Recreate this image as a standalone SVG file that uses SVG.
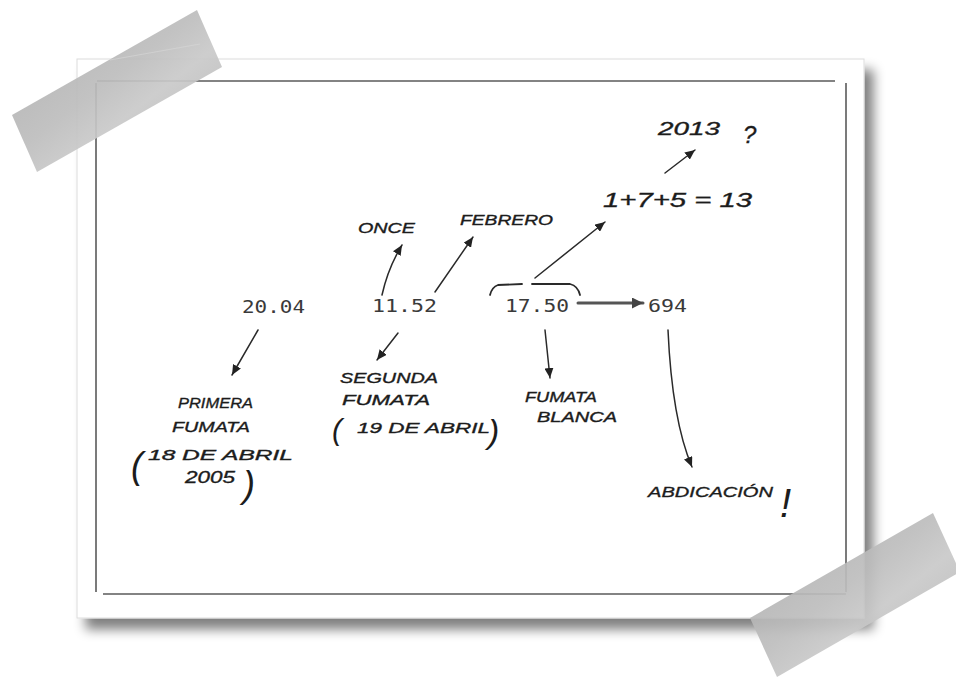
<svg xmlns="http://www.w3.org/2000/svg" width="956" height="678" viewBox="0 0 956 678">
  <style>
    .num { font-family: "DejaVu Sans Mono", "Liberation Mono", monospace; font-size: 17px; fill: #3a3a3a; }
    .hw { font-family: "Liberation Sans", "DejaVu Sans", sans-serif; font-style: italic; fill: #1c1c1c; stroke: #1c1c1c; stroke-width: 0.35; font-size: 14px; }
    .par { font-family: "Liberation Sans", "DejaVu Sans", sans-serif; font-style: italic; fill: #1c1c1c; }
    .conn { fill: none; stroke: #2a2a2a; stroke-width: 1.5; stroke-linecap: round; }
    .frame { stroke: #5a5a5a; stroke-width: 1.6; fill: none; }
    .tape { fill: url(#tapeGrad); opacity: 0.92; }
  </style>
  <defs>
    <marker id="ah" markerUnits="userSpaceOnUse" markerWidth="11" markerHeight="9" refX="10" refY="4.5" orient="auto">
      <path d="M0,0 L10,4.5 L0,9 z" fill="#222"/>
    </marker>
    <marker id="ahBig" markerUnits="userSpaceOnUse" markerWidth="12" markerHeight="11" refX="11" refY="5.5" orient="auto">
      <path d="M0,0 L11,5.5 L0,11 z" fill="#444"/>
    </marker>
    <filter id="sh" x="-5%" y="-5%" width="115%" height="120%">
      <feGaussianBlur in="SourceAlpha" stdDeviation="6"/>
      <feOffset dx="9" dy="11"/>
      <feComponentTransfer><feFuncA type="linear" slope="0.5"/></feComponentTransfer>
      <feMerge><feMergeNode/><feMergeNode in="SourceGraphic"/></feMerge>
    </filter>
    <linearGradient id="tapeGrad" x1="0" y1="0" x2="1" y2="1">
      <stop offset="0" stop-color="#a9a9a9"/>
      <stop offset="0.45" stop-color="#bdbdbd"/>
      <stop offset="0.6" stop-color="#c9c9c9"/>
      <stop offset="1" stop-color="#b0b0b0"/>
    </linearGradient>
  </defs>

  <rect x="0" y="0" width="956" height="678" fill="#ffffff"/>

  <!-- card -->
  <g id="card">
    <rect x="77" y="59" width="787" height="559" fill="#ffffff" stroke="#dcdcdc" stroke-width="1" filter="url(#sh)"/>
    <line class="frame" x1="97" y1="81" x2="835" y2="81" stroke="#8a8a8a"/>
    <line class="frame" x1="846" y1="83" x2="846" y2="592"/>
    <line class="frame" x1="103" y1="594" x2="846" y2="594"/>
    <line class="frame" x1="96" y1="83" x2="96" y2="592"/>
  </g>

  <!-- connectors -->
  <g id="connectors">
    <path class="conn" d="M258,330 L232,375" marker-end="url(#ah)"/>
    <path class="conn" d="M382,295 Q388,268 402,245" marker-end="url(#ah)"/>
    <path class="conn" d="M435,292 L473,237" marker-end="url(#ah)"/>
    <path class="conn" d="M398,333 L377,360" marker-end="url(#ah)"/>
    <path class="conn" d="M535,278 L605,222" marker-end="url(#ah)"/>
    <path class="conn" d="M545,330 L550,378" marker-end="url(#ah)"/>
    <path class="conn" d="M578,303 L643,303" style="stroke:#555;stroke-width:3" marker-end="url(#ahBig)"/>
    <path class="conn" d="M668,330 Q672,420 692,467" marker-end="url(#ah)"/>
    <path class="conn" d="M665,173 L695,150" marker-end="url(#ah)"/>
  </g>

  <!-- nodes -->
  <g id="n-2004">
    <text class="num" x="242" y="313" textLength="63" lengthAdjust="spacingAndGlyphs">20.04</text>
  </g>
  <g id="n-1152">
    <text class="num" x="372" y="312" textLength="65" lengthAdjust="spacingAndGlyphs">11.52</text>
  </g>
  <g id="n-1750">
    <text class="num" x="505" y="312" textLength="64" lengthAdjust="spacingAndGlyphs">17.50</text>
    <path d="M490,295 Q492,287 498,285 L522,284 M532,284 L570,284 Q578,286 580,295" fill="none" stroke="#2a2a2a" stroke-width="1.8" stroke-linecap="round"/>
  </g>
  <g id="n-694">
    <text class="num" x="648" y="312" textLength="39" lengthAdjust="spacingAndGlyphs" style="font-size:18px">694</text>
  </g>
  <g id="n-once">
    <text class="hw" x="358" y="233" style="font-size:15px" textLength="57" lengthAdjust="spacingAndGlyphs">ONCE</text>
  </g>
  <g id="n-febrero">
    <text class="hw" x="460" y="225" style="font-size:14px" textLength="93" lengthAdjust="spacingAndGlyphs">FEBRERO</text>
  </g>
  <g id="n-suma">
    <text class="hw" x="603" y="207" style="font-size:21px" textLength="149" lengthAdjust="spacingAndGlyphs">1+7+5 = 13</text>
  </g>
  <g id="n-2013">
    <text class="hw" x="658" y="135" style="font-size:19px" textLength="62" lengthAdjust="spacingAndGlyphs">2013</text>
    <text class="hw" x="743" y="143" style="font-size:24px">?</text>
  </g>
  <g id="n-primera">
    <text class="hw" x="178" y="408" style="font-size:15px" textLength="75" lengthAdjust="spacingAndGlyphs">PRIMERA</text>
    <text class="hw" x="172" y="432" style="font-size:15px" textLength="78" lengthAdjust="spacingAndGlyphs">FUMATA</text>
    <text class="par" x="131" y="478" style="font-size:36px">(</text>
    <text class="hw" x="148" y="460" style="font-size:15px" textLength="145" lengthAdjust="spacingAndGlyphs">18 DE ABRIL</text>
    <text class="hw" x="185" y="483" style="font-size:16px" textLength="50" lengthAdjust="spacingAndGlyphs">2005</text>
    <text class="par" x="243" y="497" style="font-size:36px">)</text>
  </g>
  <g id="n-segunda">
    <text class="hw" x="340" y="383" style="font-size:14px" textLength="98" lengthAdjust="spacingAndGlyphs">SEGUNDA</text>
    <text class="hw" x="342" y="405" style="font-size:14px" textLength="88" lengthAdjust="spacingAndGlyphs">FUMATA</text>
    <text class="par" x="332" y="440" style="font-size:30px">(</text>
    <text class="hw" x="357" y="433" style="font-size:15px" textLength="133" lengthAdjust="spacingAndGlyphs">19 DE ABRIL</text>
    <text class="par" x="488" y="443" style="font-size:34px">)</text>
  </g>
  <g id="n-blanca">
    <text class="hw" x="525" y="402" style="font-size:14px" textLength="72" lengthAdjust="spacingAndGlyphs">FUMATA</text>
    <text class="hw" x="537" y="422" style="font-size:14px" textLength="80" lengthAdjust="spacingAndGlyphs">BLANCA</text>
  </g>
  <g id="n-abdicacion">
    <text class="hw" x="648" y="497" style="font-size:15px" textLength="125" lengthAdjust="spacingAndGlyphs">ABDICACIÓN</text>
    <text class="par" x="780" y="517" style="font-size:40px">!</text>
  </g>

  <!-- tapes -->
  <g id="tape-top-left">
    <polygon class="tape" points="12,115 197,10 222,67 37,172"/>
    <line x1="110" y1="60" x2="200" y2="44" stroke="#d8d8d8" stroke-width="1" opacity="0.6"/>
  </g>
  <g id="tape-bottom-right">
    <polygon class="tape" points="750,618 933,513 960,572 777,677"/>
  </g>
</svg>
